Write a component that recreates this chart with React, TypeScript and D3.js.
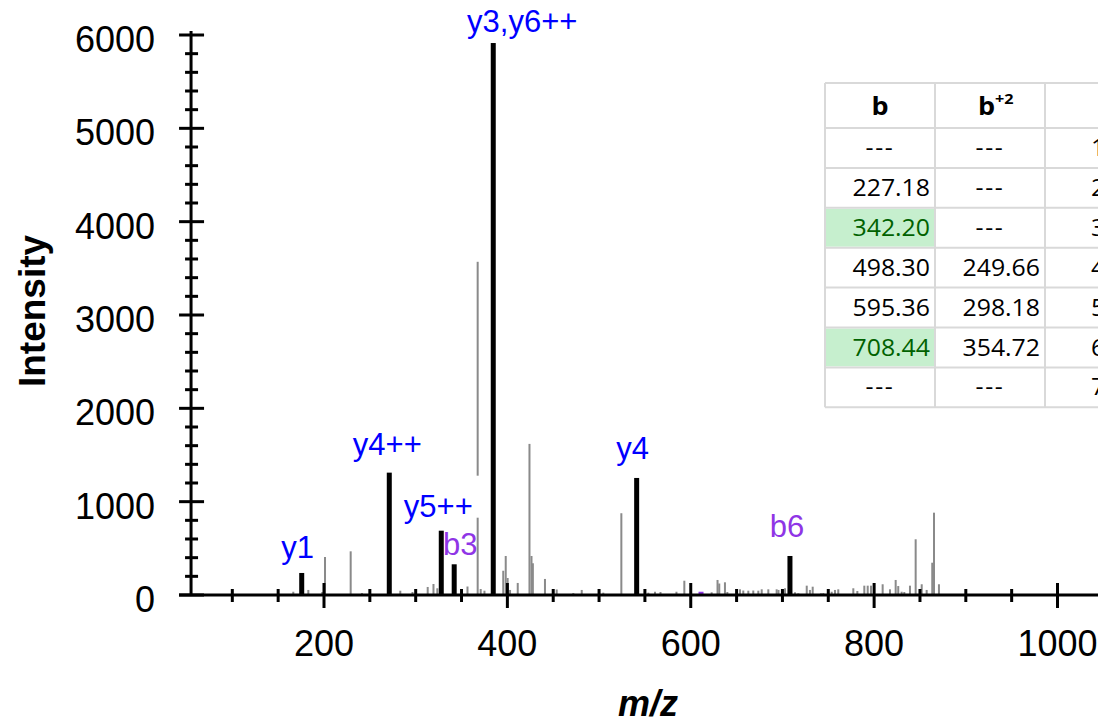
import React from 'react';
import * as d3 from 'd3';

const W = 1098;
const H = 724;

// Unmatched (grey) peaks
const peakMz = [166.5, 182.9, 198.1, 201.1, 229.1, 241.4, 283.2, 296.5, 313.1, 319.4, 323.6, 356.5, 367.6, 370.9, 375.0, 395.5, 398.2, 400.3, 402.9, 411.3, 424.1, 426.3, 427.8, 441.0, 453.8, 471.9, 481.1, 504.6, 524.3, 553.7, 561.0, 567.0, 584.4, 593.0, 622.8, 629.2, 631.1, 637.3, 639.9, 653.7, 657.3, 662.8, 668.2, 673.7, 677.4, 684.6, 693.7, 695.7, 702.8, 713.7, 717.3, 726.5, 730.0, 733.0, 742.0, 744.6, 753.7, 757.3, 760.9, 777.3, 781.7, 789.3, 793.0, 796.6, 809.3, 817.3, 823.5, 826.3, 830.0, 832.9, 839.1, 845.3, 851.9, 857.3, 863.4, 865.3, 870.7, 913.6];
const peakIntensity = [35, 54, 32, 407, 468, 21, 46, 32, 86, 118, 72, 91, 3570, 64, 46, 260, 418, 182, 54, 129, 1619, 418, 340, 172, 59, 21, 54, 25, 876, 25, 35, 32, 35, 153, 29, 161, 123, 136, 32, 61, 48, 46, 48, 46, 61, 61, 61, 54, 72, 29, 18, 100, 54, 89, 18, 21, 35, 54, 61, 72, 43, 100, 100, 100, 115, 61, 161, 96, 35, 32, 100, 597, 115, 54, 346, 882, 115, 8];

// Matched fragment ions
const ionMz = [175.7, 271.2, 327.9, 342.0, 384.6, 541.0, 708.2];
const ionIntensity = [236, 1311, 689, 329, 5914, 1254, 418];
const ionLabels = ['y1', 'y4++', 'y5++', 'b3', 'y3,y6++', 'y4', 'b6'];
const ionSeries = ['y', 'y', 'y', 'b', 'y', 'y', 'b'];

// Faint matched b ion
const faintMz = [611.2];
const faintIntensity = [35];

// Axis ticks
const xMajorTicks = [200, 400, 600, 800, 1000];
const xMinorTicks = [100, 150, 250, 300, 350, 450, 500, 550, 650, 700, 750, 850, 900, 950, 1050];
const yMajorTicks = [0, 1000, 2000, 3000, 4000, 5000, 6000];

// Fragment table
const bValues = ['---', '227.18', '342.20', '498.30', '595.36', '708.44', '---'];
const b2Values = ['---', '---', '---', '249.66', '298.18', '354.72', '---'];
const seqNumbers = ['1', '2', '3', '4', '5', '6', '7'];
const bMatched = [false, false, true, false, false, true, false];

// label layout (positions only)
const labelLayout: Record<string, { dx: number; gap: number; bg?: boolean }> = {
  'y1': { dx: -4, gap: 15 },
  'y4++': { dx: -2, gap: 18 },
  'y5++': { dx: -3, gap: 14, bg: true },
  'b3': { dx: 6, gap: 9 },
  'y3,y6++': { dx: 29, gap: 11 },
  'y4': { dx: -4, gap: 19 },
  'b6': { dx: -3, gap: 19 },
};

const FONT = '"Liberation Sans", Arial, Helvetica, sans-serif';
const TFONT = '"Open Sans", "Noto Sans", sans-serif';
const BLUE = '#0000ff';
const PURPLE = '#8f35e6';
const GREY = '#8a8a8a';

export default function App() {
  const x = d3.scaleLinear().domain([200, 1000]).range([324, 1057.5]);
  const y = d3.scaleLinear().domain([0, 6000]).range([595, 35]);
  const x0 = x(55);
  const yMinor = d3.range(200, 6001, 200).filter((v) => v % 1000 !== 0);

  // table geometry
  const tLeft = 825;
  const colW = 110;
  const tTop = 83;
  const headH = 45;
  const rowH = 39.9;
  const nRows = bValues.length;
  const tBottom = tTop + headH + rowH * nRows;
  const border = '#d9d9d9';
  const tfs = 23;
  const sx = 1.08;

  return (
    <div style={{ position: 'absolute', left: 0, top: 0 }}>
      <svg width={W} height={H} style={{ display: 'block', background: '#fff' }}>
        {/* grey peaks */}
        {peakMz.map((m, i) => (
          <rect key={'p' + i} x={x(m) - 1} y={y(peakIntensity[i])} width={2} height={y(0) - y(peakIntensity[i])} fill={GREY} />
        ))}
        {/* matched peaks */}
        {ionMz.map((m, i) => (
          <rect key={'m' + i} x={x(m) - 2.5} y={y(ionIntensity[i])} width={5} height={y(0) - y(ionIntensity[i])} fill="#000" />
        ))}
        {faintMz.map((m, i) => (
          <rect key={'f' + i} x={x(m) - 2.5} y={y(faintIntensity[i])} width={5} height={y(0) - y(faintIntensity[i])} fill={PURPLE} />
        ))}

        {/* labels */}
        {ionLabels.map((lab, i) => {
          const L = labelLayout[lab];
          const cx = x(ionMz[i]) + L.dx;
          const by = y(ionIntensity[i]) - L.gap;
          const fs = 31;
          return (
            <g key={'l' + i}>
              {L.bg && <rect x={cx - 37} y={by - 41} width={80} height={42} fill="#fff" />}
              <text x={cx} y={by} textAnchor="middle" fontFamily={FONT} fontSize={fs} fill={ionSeries[i] === 'b' ? PURPLE : BLUE}>
                {lab}
              </text>
            </g>
          );
        })}

        {/* axes */}
        <line x1={179} x2={W + 5} y1={y(0)} y2={y(0)} stroke="#000" strokeWidth={3} />
        <line x1={x0} x2={x0} y1={31} y2={y(0)} stroke="#000" strokeWidth={3} />
        {xMajorTicks.map((t) => (
          <g key={'xt' + t}>
            <line x1={x(t)} x2={x(t)} y1={y(0) - 12} y2={y(0) + 13} stroke="#000" strokeWidth={3} />
            <text x={x(t)} y={656} textAnchor="middle" fontFamily={FONT} fontSize={36} fill="#000">{t}</text>
          </g>
        ))}
        {xMinorTicks.map((t) => (
          <line key={'xm' + t} x1={x(t)} x2={x(t)} y1={y(0) - 6} y2={y(0) + 7} stroke="#000" strokeWidth={3} />
        ))}
        {yMajorTicks.map((t) => (
          <g key={'yt' + t}>
            <line x1={x0 - 12} x2={x0 + 13} y1={y(t)} y2={y(t)} stroke="#000" strokeWidth={3} />
            <text x={155} y={y(t) + 17} textAnchor="end" fontFamily={FONT} fontSize={36} fill="#000">{t}</text>
          </g>
        ))}
        {yMinor.map((t) => (
          <line key={'ym' + t} x1={x0 - 6} x2={x0 + 7} y1={y(t)} y2={y(t)} stroke="#000" strokeWidth={3} />
        ))}

        <text transform={`translate(45,311) rotate(-90)`} textAnchor="middle" fontFamily={FONT} fontWeight="bold" fontSize={37} fill="#000">Intensity</text>
        <text x={648} y={716} textAnchor="middle" fontFamily={FONT} fontWeight="bold" fontStyle="italic" fontSize={36} fill="#000">m/z</text>

        {/* table */}
        <g>
          <rect x={tLeft} y={tTop} width={W} height={tBottom - tTop} fill="#fff" />
          {bMatched.map((mt, i) =>
            mt ? <rect key={'g' + i} x={tLeft + 1} y={tTop + headH + rowH * i + 1} width={colW - 2} height={rowH - 2} fill="#c6efce" /> : null
          )}
          {d3.range(nRows + 2).map((k) => {
            const yy = k === 0 ? tTop : tTop + headH + rowH * (k - 1);
            return <line key={'hb' + k} x1={tLeft} x2={W + 5} y1={yy} y2={yy} stroke={border} strokeWidth={2} />;
          })}
          {[0, 1, 2].map((c) => (
            <line key={'vb' + c} x1={tLeft + colW * c} x2={tLeft + colW * c} y1={tTop} y2={tBottom} stroke={border} strokeWidth={2} />
          ))}
          {/* header */}
          <text transform={`translate(${tLeft + colW / 2},${tTop + 32}) scale(${sx},1)`} textAnchor="middle" fontFamily={TFONT} fontWeight="bold" fontSize={25} fill="#000">b</text>
          <text transform={`translate(${tLeft + colW * 1.5 - 12},${tTop + 32}) scale(${sx},1)`} textAnchor="start" fontFamily={TFONT} fontWeight="bold" fontSize={25} fill="#000">
            b<tspan fontSize={15} dy={-11}>+2</tspan>
          </text>
          {bValues.map((v, i) => {
            const by = tTop + headH + rowH * i + 28;
            const dash = v === '---';
            return (
              <text key={'b' + i} transform={`translate(${dash ? tLeft + colW / 2 : tLeft + colW - 5},${by}) scale(${sx},1)`} textAnchor={dash ? 'middle' : 'end'} fontFamily={TFONT} fontSize={tfs} letterSpacing={dash ? 1.5 : 0} fill={bMatched[i] ? '#006100' : '#000'}>{v}</text>
            );
          })}
          {b2Values.map((v, i) => {
            const by = tTop + headH + rowH * i + 28;
            const dash = v === '---';
            return (
              <text key={'b2' + i} transform={`translate(${dash ? tLeft + colW * 1.5 : tLeft + colW * 2 - 5},${by}) scale(${sx},1)`} textAnchor={dash ? 'middle' : 'end'} fontFamily={TFONT} fontSize={tfs} letterSpacing={dash ? 1.5 : 0} fill="#000">{v}</text>
            );
          })}
          {seqNumbers.map((v, i) => (
            <text key={'s' + i} transform={`translate(${tLeft + colW * 2.5 - 2},${tTop + headH + rowH * i + 28}) scale(${sx},1)`} textAnchor="middle" fontFamily={TFONT} fontSize={tfs} fill="#000">{v}</text>
          ))}
        </g>
      </svg>
    </div>
  );
}
